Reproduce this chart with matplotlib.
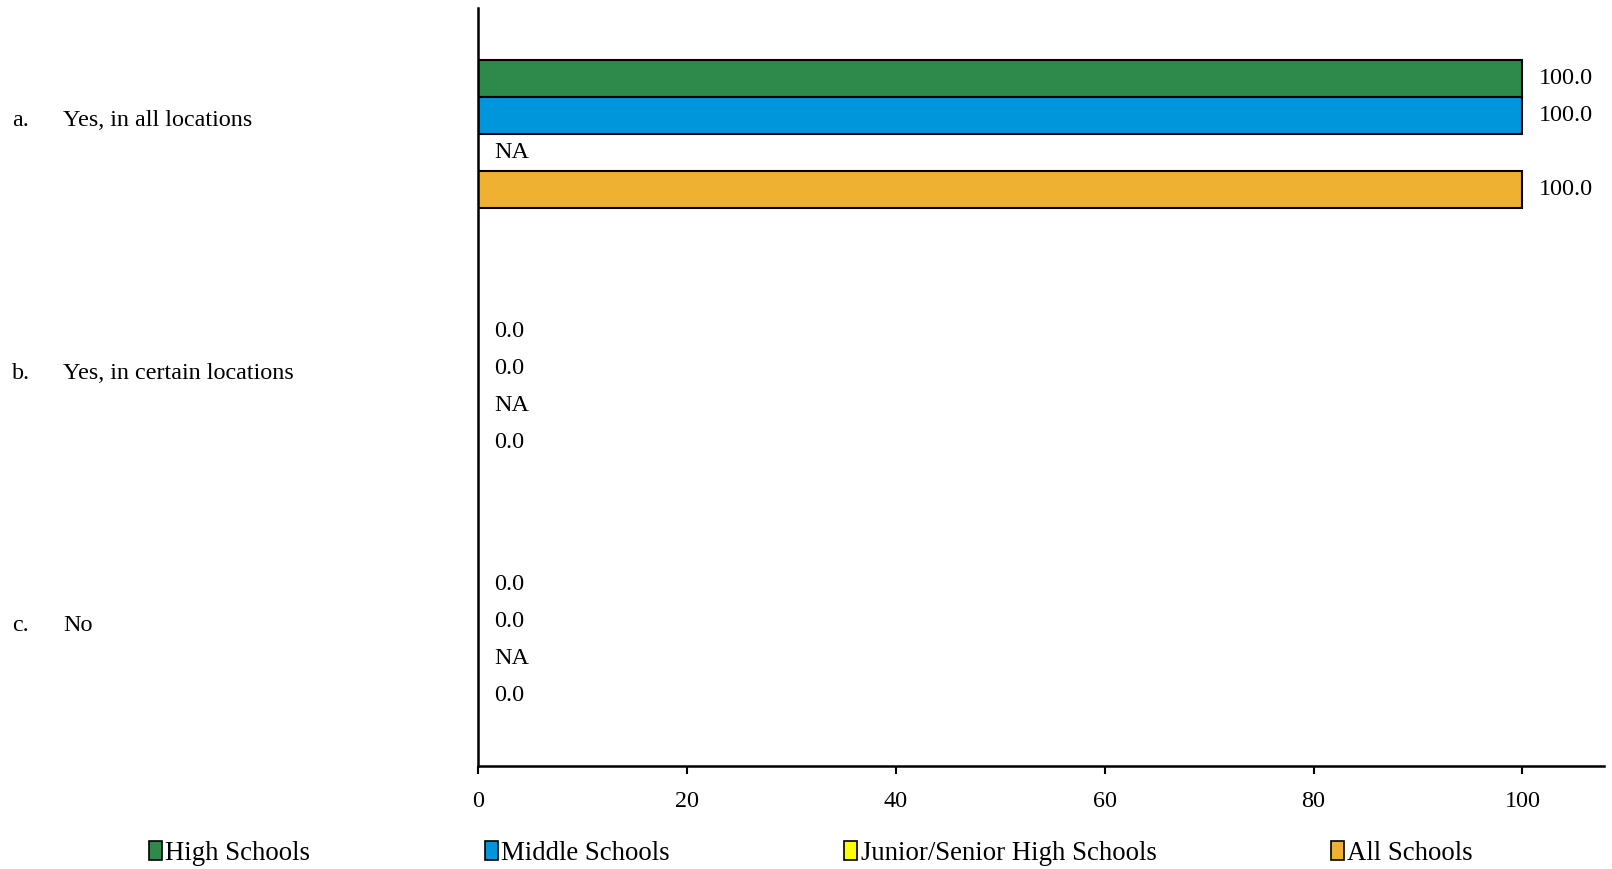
#!/usr/bin/env python3

# Horizontal grouped bars, school-type percentages, with NA for missing series

import numpy as np
from matplotlib import pyplot as plt
from matplotlib import transforms
from matplotlib.patches import Patch

plt.rcParams["font.family"] = ["Liberation Serif", "DejaVu Serif"]
plt.rcParams["font.size"] = 17.4

letters = ["a.", "b.", "c."]
categories = ["Yes, in all locations", "Yes, in certain locations", "No"]
series = ["High Schools", "Middle Schools", "Junior/Senior High Schools", "All Schools"]
colors = ["#2E8A4A", "#0096DB", "#FFFF00", "#EFB131"]

high = [100.0, 0.0, 0.0]
middle = [100.0, 0.0, 0.0]
junior = [None, None, None]  # NA
all_schools = [100.0, 0.0, 0.0]
values = [high, middle, junior, all_schools]

fig = plt.figure(figsize=(16.12, 8.69), dpi=100)
ax = fig.add_axes([0.2965, 0.1185, 0.6985, 0.8725])

bar_h = 0.146
y = np.arange(len(categories))

for k, (name, vals, col) in enumerate(zip(series, values, colors)):
    pos = y + (k - 1.5) * bar_h
    for yy, v in zip(pos, vals):
        if v is None:
            ax.annotate("NA", (0, yy), xytext=(11.5, 0), textcoords="offset points",
                        ha="left", va="center")
            continue
        ax.barh(yy, v, height=bar_h, color=col, edgecolor="black", linewidth=1.5)
        ax.annotate(f"{v:.1f}", (v, yy), xytext=(11.5, 0), textcoords="offset points",
                    ha="left", va="center")

ax.set_xlim(0, 107.8)
ax.set_ylim(len(categories) - 0.5, -0.5)
ax.set_xticks([0, 20, 40, 60, 80, 100])
ax.set_yticks([])
ax.tick_params(axis="x", length=6, width=1.5, pad=12, direction="out")
for s in ["top", "right"]:
    ax.spines[s].set_visible(False)
for s in ["left", "bottom"]:
    ax.spines[s].set_linewidth(1.8)

tr = transforms.blended_transform_factory(fig.transFigure, ax.transData)
for i, (let, cat) in enumerate(zip(letters, categories)):
    ax.text(12 / 1612, i - 0.055, let, transform=tr, ha="left", va="center")
    ax.text(63 / 1612, i - 0.055, cat, transform=tr, ha="left", va="center")

handles = [Patch(facecolor=c, edgecolor="black", linewidth=1.2) for c in colors]
fig.legend(handles, series, loc="center", bbox_to_anchor=(0.503, 0.018), ncol=4,
           frameon=False, handlelength=0.5, handleheight=0.75, handletextpad=0.12,
           columnspacing=6.5, borderpad=0, fontsize=19.3)

fig.savefig("out.png", dpi=100)
